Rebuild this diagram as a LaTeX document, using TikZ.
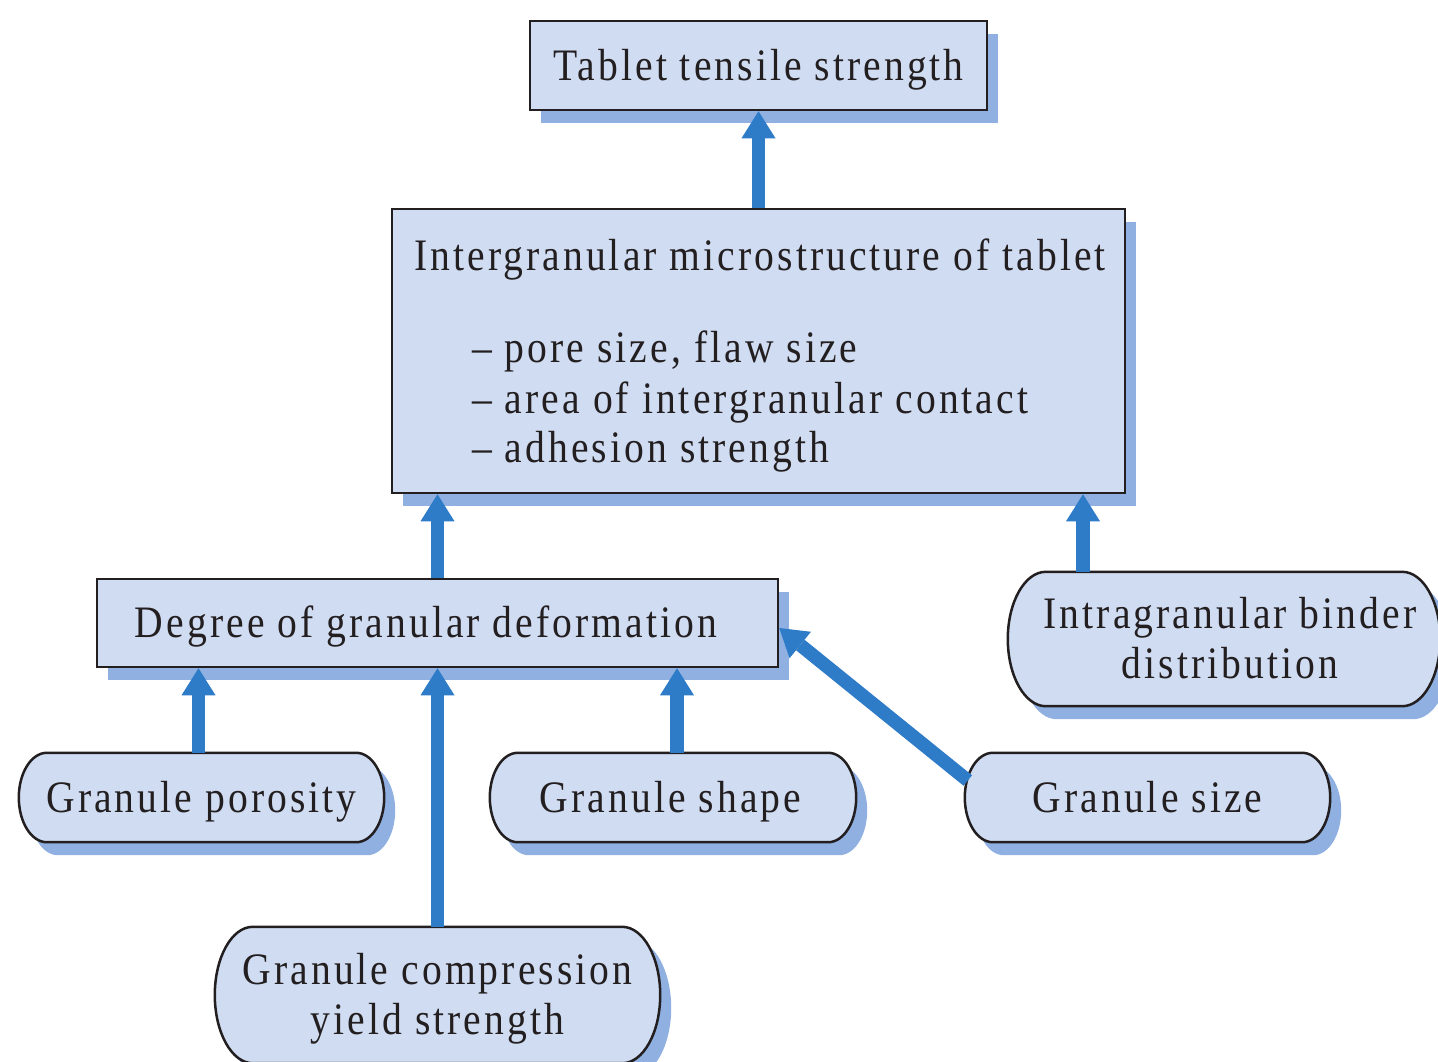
\documentclass[tikz,border=0pt]{standalone}
\usepackage{fontspec}
\setmainfont{Liberation Serif}[FakeStretch=0.88, LetterSpace=6.8]
\usetikzlibrary{arrows.meta,shadows,calc}
\definecolor{boxfill}{HTML}{D0DCF2}
\definecolor{shadowc}{HTML}{8FB0E0}
\definecolor{arrowc}{HTML}{2E7BC8}
\definecolor{edgec}{HTML}{231F20}
\pgfdeclarelayer{bg}
\pgfsetlayers{bg,main}
% #1 node, #2 end radius, #3 x offset, #4 y offset (canvas)
\newcommand\pillpath[4]{let \p1=(#1.north west), \p2=(#1.south east), \n1={(\y1-\y2)/2} in
  (\x1+#2+#3,\y1+#4) -- (\x2-#2+#3,\y1+#4) arc[start angle=90, end angle=-90, x radius=#2, y radius={\n1*1pt}]
  -- (\x1+#2+#3,\y2+#4) arc[start angle=270, end angle=90, x radius=#2, y radius={\n1*1pt}] -- cycle}
\newcommand\drawpill[2]{%
  \fill[shadowc] \pillpath{#1}{#2}{11pt}{-13pt};
  \draw[draw=edgec, line width=2.5pt, fill=boxfill] \pillpath{#1}{#2}{0pt}{0pt};}
\begin{document}
\begin{tikzpicture}[x=1pt,y=-1pt,
  every node/.style={font=\fontsize{45}{50}\selectfont, text=edgec},
  capc/.style={text height=29.8pt, text depth=0pt},
  twoline/.style={text height=79.8pt},
  sq/.style={capc, draw=edgec, line width=2.5pt, fill=boxfill, inner sep=0pt, align=center,
    general shadow={fill=shadowc, shadow xshift=11pt, shadow yshift=-13pt}},
  pillnode/.style={capc, inner sep=0pt, align=center},
  conn/.style={draw=arrowc, line width=13.5pt, -{Triangle[width=34pt,length=27pt,line width=0pt]}},
  txt/.style={anchor=base west, inner sep=0pt}
]
\useasboundingbox (0,0) rectangle (1438,1061);

% boxes
\node[sq, minimum width=457pt, minimum height=89pt] (top) at (758.5,65.5) {Tablet tensile strength};
\node[sq, minimum width=733pt, minimum height=284pt] (mid) at (758.5,351) {};
\node[txt] (h1) at (414,270) {Intergranular microstructure of tablet};
\node[txt] (b1) at (472,362) {– pore size, flaw size};
\node[txt] (b2) at (472,413) {– area of intergranular contact};
\node[txt] (b3) at (472,462) {– adhesion strength};
\node[sq, minimum width=681pt, minimum height=88pt] (deg) at (437.5,623) {Degree of granular deformation\hspace*{23pt}};

% pill-shaped nodes
\node[pillnode, twoline, minimum width=432pt, minimum height=134pt] (intra) at (1224,639) {\hspace*{12pt}Intragranular binder\\\hspace*{12pt}distribution};
\node[pillnode, minimum width=365pt, minimum height=89pt] (por) at (201.5,797.5) {Granule porosity};
\node[pillnode, minimum width=366pt, minimum height=89pt] (shp) at (673,797.5) {Granule shape\hspace*{5pt}};
\node[pillnode, minimum width=365pt, minimum height=89pt] (gsz) at (1147.5,797.5) {Granule size};
\node[pillnode, twoline, minimum width=445pt, minimum height=136pt] (comp) at (437.5,995) {Granule compression\\yield strength};

\begin{pgfonlayer}{bg}
  \drawpill{intra}{38pt}
  \drawpill{por}{28pt}
  \drawpill{shp}{28pt}
  \drawpill{gsz}{28pt}
  \drawpill{comp}{38pt}
\end{pgfonlayer}

% connectors
\draw[conn] (mid.north) -- (top.south);
\draw[conn] (deg.north) -- (deg.north |- mid.south);
\draw[conn] ([xshift=-141pt]intra.north) -- ([xshift=-141pt]intra.north |- mid.south);
\draw[conn] ([xshift=-3pt]por.north) -- ([xshift=-3pt]por.north |- deg.south);
\draw[conn] ([xshift=4pt]shp.north) -- ([xshift=4pt]shp.north |- deg.south);
\draw[conn] (comp.north) -- (comp.north |- deg.south);
\draw[conn] ([xshift=3pt,yshift=17pt]gsz.west) -- ([yshift=-5pt]deg.east);
\end{tikzpicture}
\end{document}
